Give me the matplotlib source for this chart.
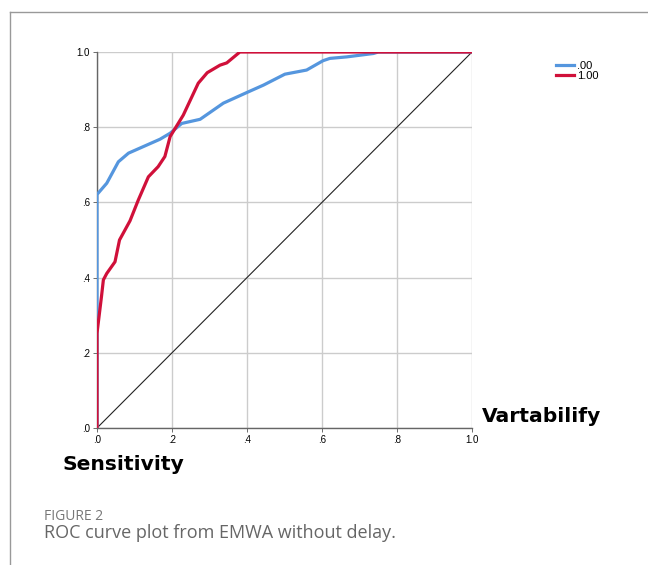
import matplotlib.pyplot as plt
from matplotlib.lines import Line2D

# ROC points
fpr_00 = [0.0, 0.0, 0.026, 0.057, 0.084, 0.168, 0.195, 0.226, 0.275, 0.337, 0.399,
          0.444, 0.501, 0.559, 0.603, 0.621, 0.666, 0.737, 0.75, 1.0]
tpr_00 = [0.0, 0.621, 0.651, 0.708, 0.731, 0.768, 0.784, 0.810, 0.821, 0.864, 0.892,
          0.912, 0.941, 0.952, 0.977, 0.983, 0.987, 0.996, 1.0, 1.0]

fpr_100 = [0.0, 0.0, 0.012, 0.017, 0.026, 0.048, 0.060, 0.088, 0.110, 0.137, 0.163, 0.181,
           0.195, 0.230, 0.270, 0.294, 0.328, 0.346, 0.381, 1.0]
tpr_100 = [0.0, 0.252, 0.350, 0.394, 0.411, 0.442, 0.500, 0.551, 0.606, 0.668, 0.695, 0.722,
           0.775, 0.832, 0.917, 0.945, 0.965, 0.971, 1.0, 1.0]

ticks = [0.0, 0.2, 0.4, 0.6, 0.8, 1.0]
tick_labels = ['.0', '.2', '.4', '.6', '.8', '1.0']
series_labels = ['.00', '1.00']

blue = '#5596de'
red = '#d0103a'

plt.rcParams['font.family'] = ['Liberation Sans', 'DejaVu Sans']

fig = plt.figure(figsize=(6.48, 5.65), dpi=100)
ax = fig.add_axes([97 / 648, 1 - 428 / 565, 375 / 648, 376 / 565])

ax.plot([0, 1], [0, 1], color='#222222', linewidth=0.8, zorder=2)
ax.plot(fpr_00, tpr_00, color=blue, linewidth=2.3, zorder=3, solid_joinstyle='round')
ax.plot(fpr_100, tpr_100, color=red, linewidth=2.3, zorder=4, solid_joinstyle='round')

ax.set_xlim(0, 1)
ax.set_ylim(0, 1)
ax.set_xticks(ticks)
ax.set_yticks(ticks)
ax.set_xticklabels(tick_labels)
ax.set_yticklabels(tick_labels)
ax.tick_params(labelsize=7, length=3, width=0.6, color='#555555', pad=2)
ax.grid(True, color='#cccccc', linewidth=1)
ax.set_axisbelow(True)
for s in ['top', 'right']:
    ax.spines[s].set_visible(False)
for s in ['left', 'bottom']:
    ax.spines[s].set_color('#666666')
    ax.spines[s].set_linewidth(1)

# legend outside the plot, top right
handles = [Line2D([], [], color=blue, linewidth=2.3),
           Line2D([], [], color=red, linewidth=2.3)]
fig.legend(handles, series_labels, loc='upper left', bbox_to_anchor=(550 / 648, 1 - 55 / 565),
           frameon=False, fontsize=8, handlelength=1.7, handletextpad=0.2,
           labelspacing=0.0, borderpad=0)

# axis titles placed like the original
fig.text(482 / 648, 1 - 416 / 565, 'Vartabilify', fontsize=14.6, fontweight='bold',
         family='DejaVu Sans', va='center', ha='left')
fig.text(63 / 648, 1 - 464 / 565, 'Sensitivity', fontsize=14.6, fontweight='bold',
         family='DejaVu Sans', va='center', ha='left')

# caption
fig.text(44 / 648, 1 - 516 / 565, 'FIGURE 2', fontsize=10, color='#777777',
         family='Open Sans', va='center', ha='left')
fig.text(44 / 648, 1 - 533 / 565, 'ROC curve plot from EMWA without delay.', fontsize=13,
         color='#666666', family='Open Sans', va='center', ha='left')

# frame lines on the left and top
fig.add_artist(Line2D([9.5 / 648, 9.5 / 648], [0, 1 - 12 / 565], color='#999999',
                      linewidth=1, transform=fig.transFigure))
fig.add_artist(Line2D([9.5 / 648, 1], [1 - 12 / 565, 1 - 12 / 565], color='#999999',
                      linewidth=1, transform=fig.transFigure))

fig.savefig('out.png', dpi=100)
